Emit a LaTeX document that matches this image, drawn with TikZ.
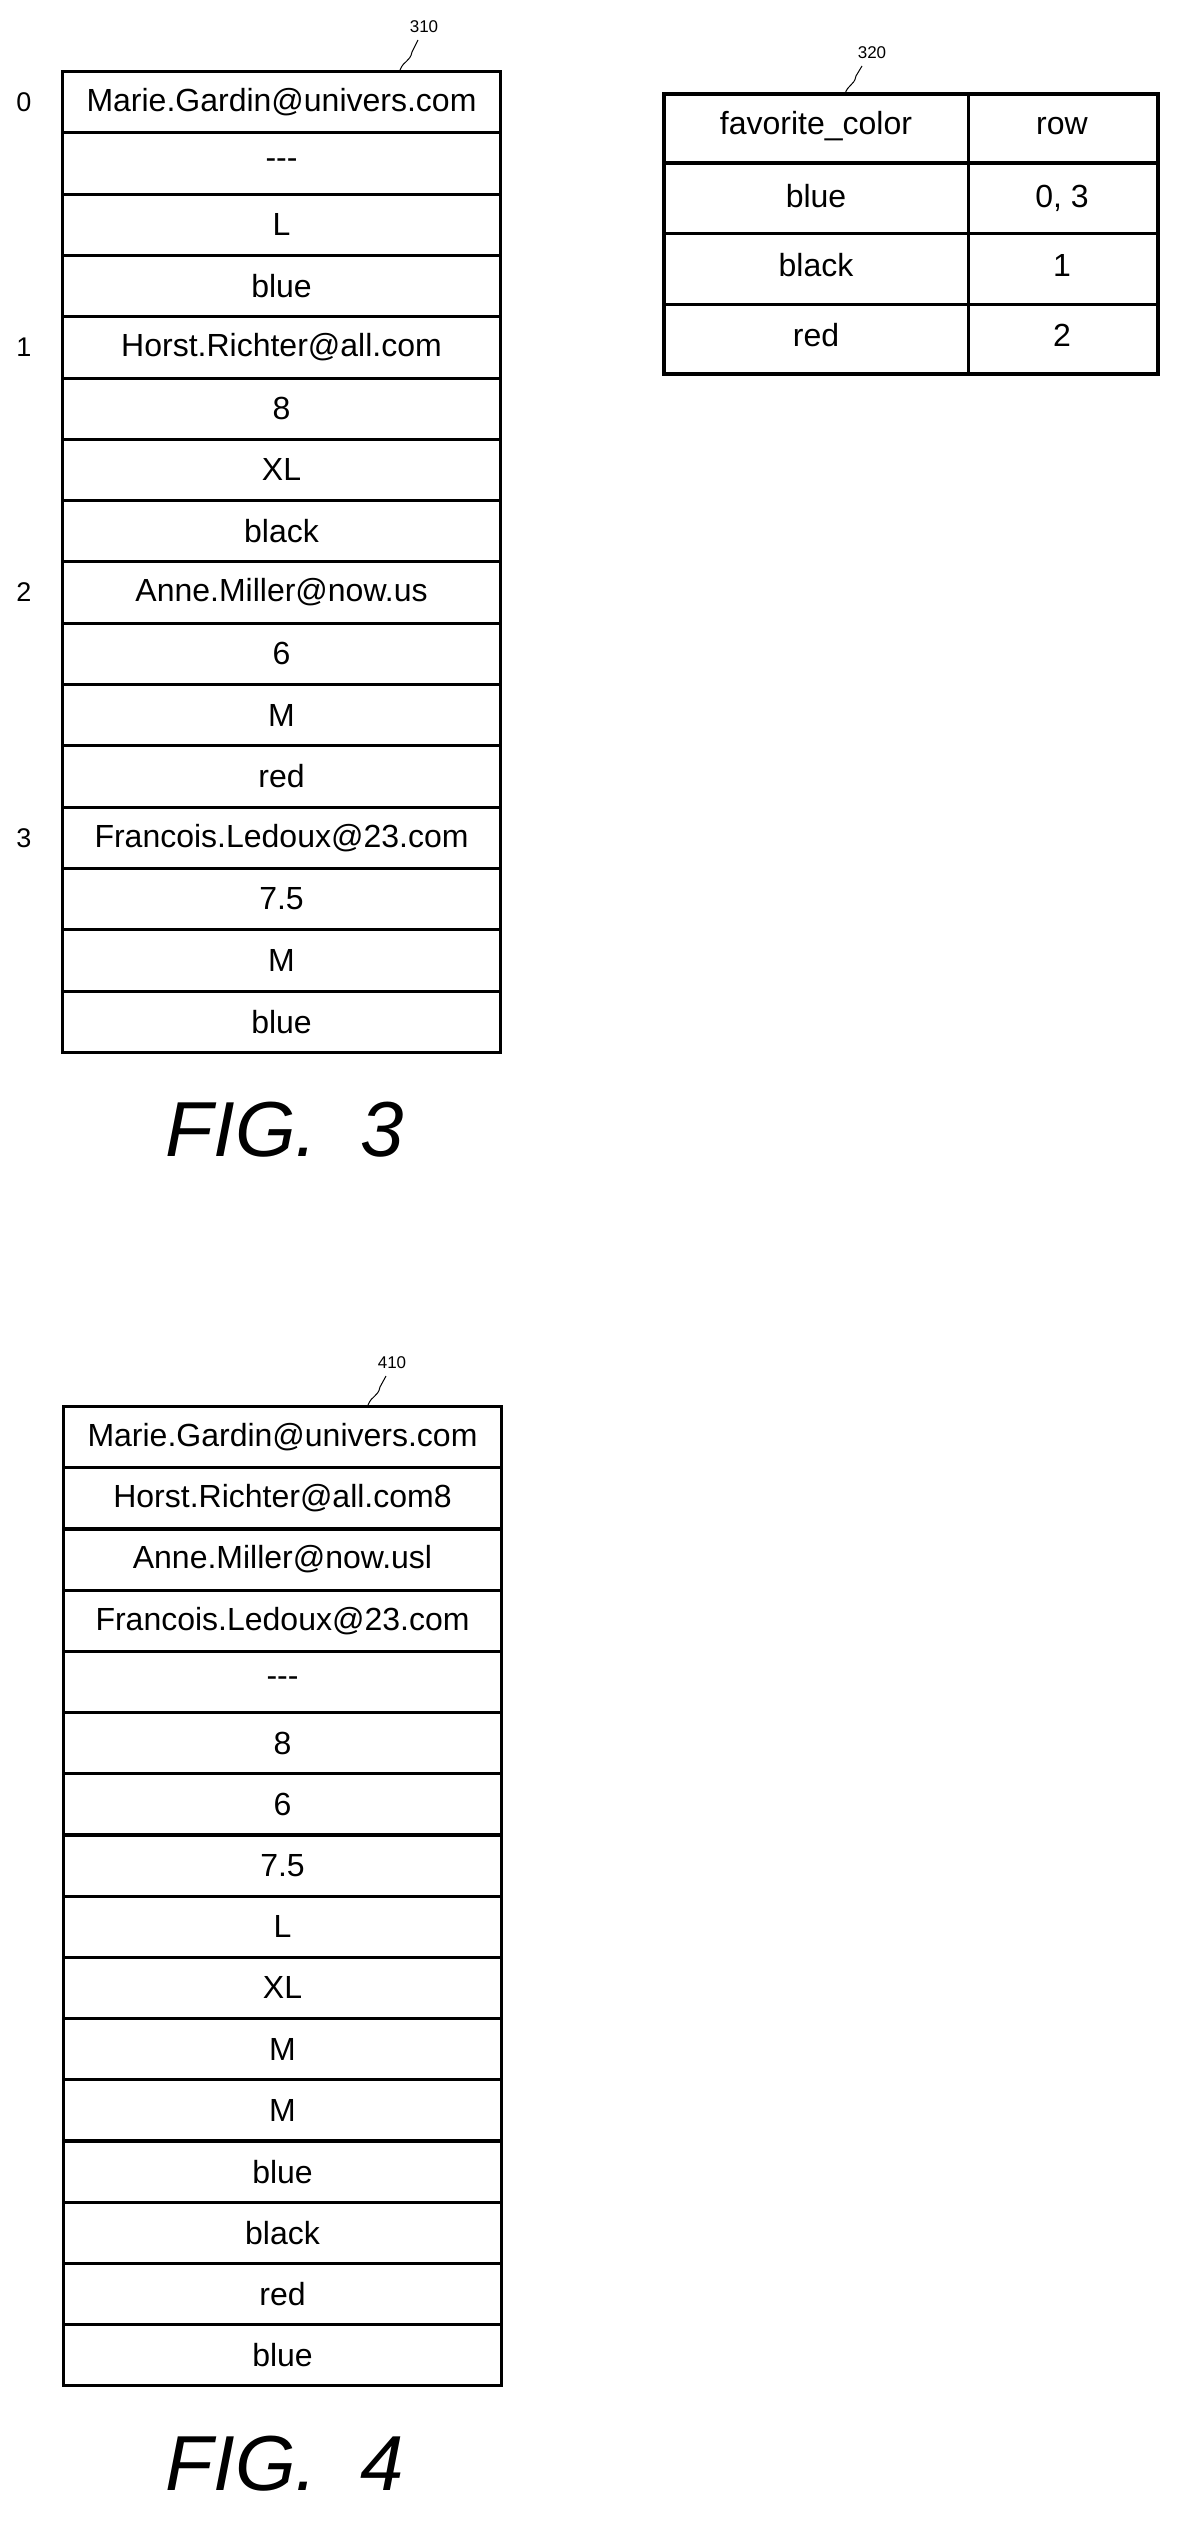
\documentclass[tikz,border=0pt]{standalone}
\usepackage{fontspec}
\setmainfont{Liberation Sans}
\begin{document}
\begin{tikzpicture}[x=1pt,y=-1pt,
  cell/.style={draw,line width=3pt,minimum width=438pt,minimum height=61.3pt,inner sep=0pt,anchor=north west,font=\fontsize{32}{33}\selectfont},
  tcell/.style={inner sep=0pt,font=\fontsize{32}{33}\selectfont},
  idx/.style={font=\fontsize{27}{28}\selectfont},
  ref/.style={font=\fontsize{17}{18}\selectfont},
  fig/.style={font=\fontsize{78}{80}\selectfont\itshape}]
\useasboundingbox (0,0) rectangle (1184,2523);
% FIG 3 table
\foreach \t [count=\i from 0] in {Marie.Gardin@univers.com,{-}{-}{-},L,blue,Horst.Richter@all.com,8,XL,black,Anne.Miller@now.us,6,M,red,Francois.Ledoux@23.com,7.5,M,blue}{
  \node[cell] (a\i) at (61,70+61.3*\i) {\t};
}
\coordinate (lx) at (24,0);
\node[idx] (i0) at (a0.west -| lx) {0};
\node[idx] (i1) at (a4.west -| lx) {1};
\node[idx] (i2) at (a8.west -| lx) {2};
\node[idx] (i3) at (a12.west -| lx) {3};
\node[ref] (r310) at (424,27) {310};
\draw[line width=1pt] (400,70) .. controls (404,60) and (410,62) .. (412,52) -- (418,40);
% table 320
\draw[line width=4pt] (664,94) rectangle (1158,374);
\draw[line width=4pt] (664,163) -- (1158,163);
\draw[line width=3pt] (664,234) -- (1158,234) (664,304) -- (1158,304) (968,94) -- (968,374);
\node[tcell] (h1) at (816,126) {favorite\_color};
\node[tcell] (h2) at (1062,126) {row};
\node[tcell] (b1) at (816,196) {blue};
\node[tcell] (b2) at (1062,198) {0, 3};
\node[tcell] (k1) at (816,265) {black};
\node[tcell] (k2) at (1062,265) {1};
\node[tcell] (d1) at (816,335) {red};
\node[tcell] (d2) at (1062,335) {2};
\node[ref] (r320) at (872,53) {320};
\draw[line width=1pt] (845,94) .. controls (848,84) and (854,86) .. (856,76) -- (862,66);
\node[fig] (f3) at (285,1130) {FIG.\ \ 3};
% FIG 4 table
\foreach \t [count=\i from 0] in {Marie.Gardin@univers.com,Horst.Richter@all.com8,Anne.Miller@now.usl,Francois.Ledoux@23.com,{-}{-}{-},8,6,7.5,L,XL,M,M,blue,black,red,blue}{
  \node[cell] (c\i) at (62,1405+61.2*\i) {\t};
}
\node[ref] (r410) at (392,1363) {410};
\draw[line width=1pt] (368,1405) .. controls (372,1395) and (378,1397) .. (380,1387) -- (386,1376);
\node[fig] (f4) at (285,2464) {FIG.\ \ 4};
\end{tikzpicture}
\end{document}
